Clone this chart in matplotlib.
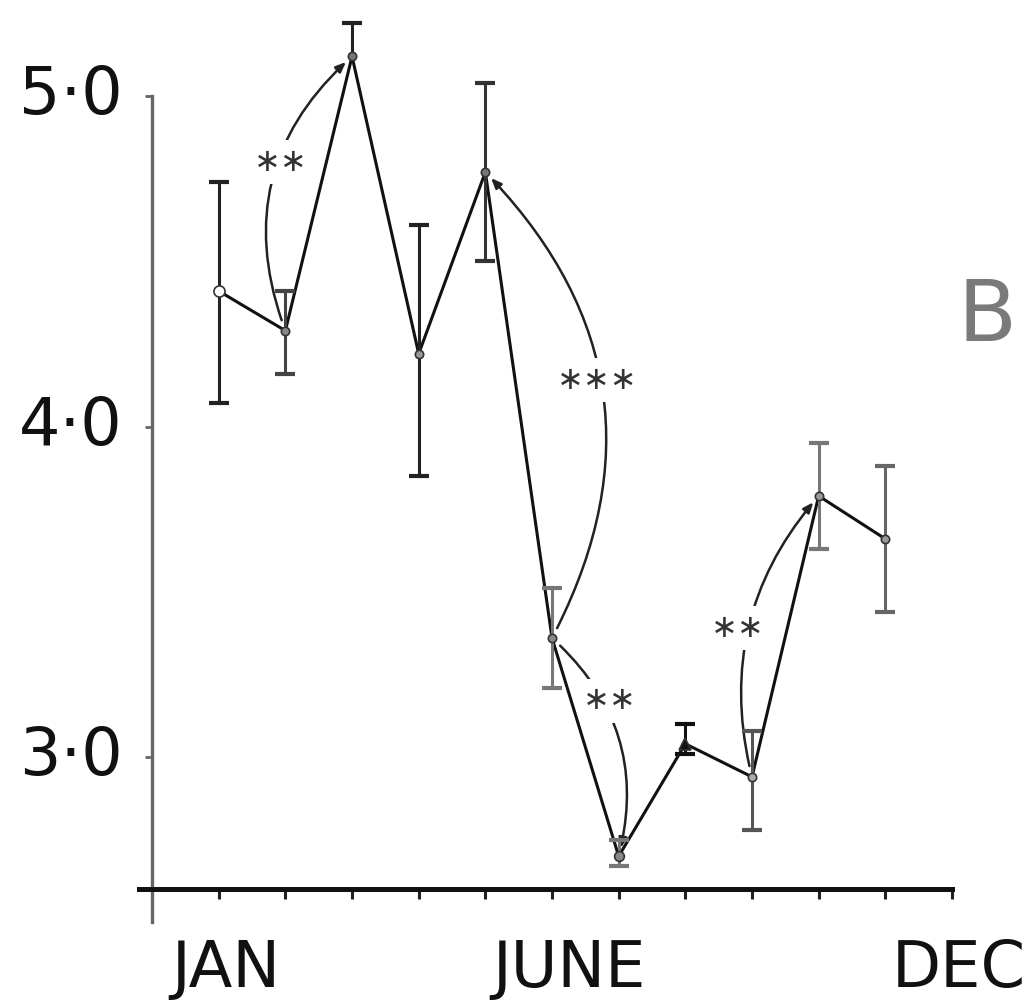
"""Monthly means with error bars and significance arcs (panel B)"""

import matplotlib.pyplot as plt

# data
months = [1, 2, 3, 4, 5, 6, 7, 8, 9, 10, 11]
means = [4.41, 4.29, 5.12, 4.22, 4.77, 3.36, 2.70, 3.04, 2.94, 3.79, 3.66]
err_low = [0.34, 0.13, 0.0, 0.37, 0.27, 0.15, 0.03, 0.03, 0.16, 0.16, 0.22]
err_high = [0.33, 0.12, 0.10, 0.39, 0.27, 0.15, 0.05, 0.06, 0.14, 0.16, 0.22]

y_ticks = [3.0, 4.0, 5.0]
y_tick_labels = ["3·0", "4·0", "5·0"]
month_labels = ["JAN", "JUNE", "DEC"]
month_label_pos = [1.1, 6.25, 12.1]

# significance arcs: (from month, to month, stars)
sig_pairs = [(2, 3, "**"), (6, 5, "***"), (6, 7, "**"), (9, 10, "**")]

# per point styling
ecolors = ["#222", "#444", "#222", "#222", "#333", "#777", "#777", "#111", "#555", "#777", "#666"]
markers = ["o", "o", "o", "o", "o", "o", "o", "^", "o", "o", "o"]
mfaces = ["white", "#888", "#777", "#999", "#777", "#888", "#888", "#111", "#aaa", "#999", "#999"]
msizes = [8, 6, 6, 6, 6, 6, 7, 9, 6, 6, 6]
arc_rads = [-0.34, 0.36, -0.30, -0.26]
star_pos = [(1.93, 4.80), (6.68, 4.14), (6.87, 3.17), (8.79, 3.39)]

FONT = "DejaVu Sans"


def draw_points(ax):
    """Line, error bars and markers"""
    ax.plot(months, means, color="#111", lw=2.2, zorder=4)
    for i, m in enumerate(months):
        lo = means[i] - err_low[i]
        hi = means[i] + err_high[i]
        ax.vlines(m, lo, hi, color=ecolors[i], lw=2.2, zorder=5)
        ax.plot([m], [hi], marker="_", ms=14, mew=3, color=ecolors[i], zorder=5)
        if err_low[i] > 0:
            ax.plot([m], [lo], marker="_", ms=14, mew=3, color=ecolors[i], zorder=5)
        ax.plot([m], [means[i]], marker=markers[i], ms=msizes[i], mfc=mfaces[i],
                mec="#333", mew=1.2, ls="none", zorder=6)


def draw_significance(ax):
    """Curved arrows broken by the star labels"""
    for (a, b, stars), rad, (tx, ty) in zip(sig_pairs, arc_rads, star_pos):
        ax.annotate("", xy=(b, means[b - 1]), xytext=(a, means[a - 1]),
                    arrowprops=dict(arrowstyle="-|>,head_length=0.6,head_width=0.25",
                                    connectionstyle=f"arc3,rad={rad}", color="#222",
                                    lw=1.8, shrinkA=8, shrinkB=6),
                    zorder=2)
        ax.text(tx, ty, "\u2217" * len(stars), fontsize=23, family=FONT,
                color="#333", ha="center", va="center",
                bbox=dict(boxstyle="square,pad=0.2", fc="white", ec="none"), zorder=3)


def style_axes(ax):
    """Bare axes with an offset look"""
    ax.set_xlim(-0.2, 12.05)
    ax.set_ylim(2.5, 5.25)
    for s in ("top", "right"):
        ax.spines[s].set_visible(False)
    ax.spines["left"].set_position(("data", 0))
    ax.spines["left"].set_bounds(2.5, 5.0)
    ax.spines["left"].set_color("#666")
    ax.spines["left"].set_linewidth(2.4)
    ax.spines["bottom"].set_position(("data", 2.6))
    ax.spines["bottom"].set_bounds(-0.2, 12.0)
    ax.spines["bottom"].set_linewidth(3.6)
    ax.spines["bottom"].set_color("#111")

    ax.set_xticks(range(1, 13))
    ax.set_xticklabels([])
    ax.tick_params(axis="x", direction="out", length=7, width=2.2, color="#222")
    ax.set_yticks(y_ticks)
    ax.set_yticklabels(y_tick_labels, fontsize=47, family=FONT, va="center", color="#111")
    ax.tick_params(axis="y", direction="out", length=5, width=2, color="#666", pad=16)

    for x, lab in zip(month_label_pos, month_labels):
        ax.text(x, 2.36, lab, fontsize=46, family=FONT, ha="center", va="center", color="#111")
    ax.text(12.52, 4.33, "B", fontsize=62, family=FONT, ha="center", va="center",
            color="#7a7a7a")


def main():
    fig = plt.figure(figsize=(10.33, 10.0), dpi=100)
    ax = fig.add_axes([0.1343, 0.0777, 0.7905, 0.9089])
    draw_points(ax)
    draw_significance(ax)
    style_axes(ax)
    fig.savefig("out.png", dpi=100)
    plt.close(fig)


if __name__ == "__main__":
    main()
